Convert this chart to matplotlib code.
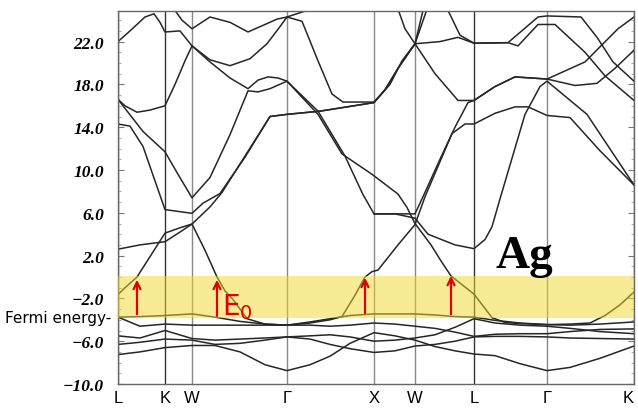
"""Estrutura de bandas da prata (Ag) ao longo de L-K-W-Γ-X-W-L-Γ-K."""

import matplotlib
matplotlib.use('Agg')
import matplotlib.pyplot as plt
from matplotlib.ticker import MultipleLocator

# Pontos de alta simetria (distância ao longo do caminho)
kpts = [0.0, 0.47, 0.74, 1.69, 2.56, 2.97, 3.56, 4.29, 5.16]
klabels = ['L', 'K', 'W', 'Γ', 'X', 'W', 'L', 'Γ', 'K']
kcolors = ['#555555', '#333333', '#888888', '#888888', '#888888',
           '#888888', '#333333', '#888888', '#555555']

# Eixo de energia (eV)
yticks = [-10, -6, -2, 2, 6, 10, 14, 18, 22]
ylabels = ['\u221210.0', '\u22126.0', '\u22122.0', '2.0', '6.0',
           '10.0', '14.0', '18.0', '22.0']

# Bandas altas: listas (k, E)
band_u0 = [(0.0, 22.0), (0.12, 23.0), (0.27, 24.3), (0.36, 24.6), (0.42, 23.8),
           (0.47, 22.9), (0.62, 23.0), (0.74, 21.6), (0.92, 20.3), (1.12, 19.75),
           (1.32, 20.4), (1.49, 21.8), (1.62, 23.4), (1.69, 24.3), (1.82, 24.7),
           (2.02, 25.3)]
band_u1 = [(0.54, 25.3), (0.64, 24.0), (0.74, 23.2), (0.92, 24.3), (1.12, 23.8),
           (1.30, 22.9), (1.47, 23.6), (1.59, 24.1), (1.69, 24.3), (1.84, 23.9),
           (2.00, 20.2), (2.14, 17.1), (2.25, 16.35), (2.56, 16.35), (2.67, 17.5),
           (2.80, 19.5), (2.97, 21.8), (3.17, 19.0), (3.40, 16.5), (3.56, 16.5),
           (3.77, 17.8), (3.97, 18.7), (4.29, 18.5), (4.67, 20.1), (5.00, 23.2),
           (5.16, 24.3)]
band_v = [(0.0, 16.6), (0.07, 16.0), (0.19, 15.4), (0.32, 15.6), (0.47, 16.0),
          (0.57, 18.0), (0.67, 20.2), (0.74, 21.6), (0.92, 20.1), (1.12, 18.6),
          (1.30, 17.6), (1.40, 18.4), (1.50, 18.7), (1.60, 18.6), (1.69, 18.3),
          (2.00, 15.5), (2.27, 11.3), (2.45, 7.7), (2.56, 5.9), (2.77, 5.9),
          (2.97, 5.9), (3.04, 7.3), (3.22, 11.0), (3.37, 14.0), (3.50, 16.3),
          (3.56, 16.5), (3.77, 17.8), (3.97, 18.7), (4.29, 18.5), (4.57, 17.9),
          (4.79, 18.1), (4.97, 19.5), (5.16, 21.2)]
band_b7 = [(0.0, 16.6), (0.25, 13.6), (0.47, 11.7), (0.60, 9.6), (0.74, 7.4),
           (0.92, 9.3), (1.12, 13.3), (1.30, 17.4), (1.40, 17.3), (1.52, 17.6),
           (1.69, 18.3), (2.00, 15.2), (2.24, 11.5), (2.54, 9.6), (2.80, 7.75),
           (2.89, 6.5), (2.97, 5.0), (3.13, 3.0), (3.23, 1.5), (3.33, 0.1),
           (3.56, -1.6), (3.74, -3.8), (3.87, -4.25), (4.02, -4.35), (4.29, -4.45),
           (4.52, -4.4), (4.72, -4.3), (4.87, -3.6), (5.02, -2.6), (5.16, -1.4)]
band_l14 = [(0.0, 14.3), (0.12, 14.1), (0.25, 12.2), (0.47, 6.3), (0.74, 5.95),
            (0.85, 6.9), (1.02, 7.8), (1.27, 11.2), (1.52, 15.0), (1.69, 15.2),
            (2.02, 15.5), (2.56, 16.3), (2.67, 17.5), (2.80, 19.5), (2.97, 21.8),
            (3.06, 25.3)]
band_sp2 = [(0.0, 2.6), (0.22, 3.0), (0.47, 3.3), (0.62, 4.2), (0.74, 4.95),
            (0.92, 6.55), (1.04, 7.9), (1.29, 11.6), (1.52, 15.0), (1.69, 15.2),
            (2.02, 15.5), (2.56, 16.3), (2.72, 18.0), (2.84, 20.2), (2.97, 21.8),
            (3.10, 25.3)]
band_sp1 = [(0.0, -1.65), (0.07, -1.0), (0.19, 0.0), (0.32, 1.9), (0.47, 4.1),
            (0.62, 4.6), (0.74, 4.95), (0.87, 2.5), (0.99, 0.0), (1.07, -1.3),
            (1.15, -2.1), (1.29, -3.9), (1.47, -4.4), (1.69, -4.5), (1.92, -4.3),
            (2.12, -4.0), (2.24, -3.7), (2.37, -1.7), (2.47, 0.0), (2.54, 0.5),
            (2.60, 0.65), (2.80, 3.0), (2.97, 4.9), (3.07, 7.5), (3.34, 13.4),
            (3.47, 14.3), (3.56, 14.3), (3.77, 15.3), (3.97, 15.9), (4.10, 15.9),
            (4.29, 15.1), (4.52, 14.9), (4.82, 11.8), (5.16, 8.6)]
band_t = [(2.56, 5.9), (2.77, 5.9), (2.97, 5.5), (3.10, 4.0), (3.37, 3.0),
          (3.56, 2.65), (3.67, 3.5), (3.74, 4.7), (3.82, 7.3), (4.07, 15.2),
          (4.22, 17.8), (4.29, 18.3), (4.69, 15.2), (5.16, 8.6)]
band_u5 = [(2.79, 25.3), (2.87, 23.2), (2.97, 21.8), (3.22, 22.0), (3.40, 22.4),
           (3.56, 21.85), (3.90, 21.9), (4.00, 21.6), (4.20, 23.6), (4.37, 23.6),
           (4.67, 21.0), (4.87, 18.8), (5.16, 16.5)]
band_u6 = [(3.28, 25.3), (3.42, 22.6), (3.56, 21.85), (3.90, 21.9), (4.20, 24.3),
           (4.29, 24.4), (4.63, 24.3), (4.79, 22.4), (4.95, 20.1), (5.16, 18.3)]

# Bandas d e fundo da banda s, numa grade comum de k
k_grid = [0.0, 0.22, 0.47, 0.74, 0.97, 1.22, 1.47, 1.69, 1.92, 2.12, 2.32, 2.56,
          2.77, 2.97, 3.17, 3.37, 3.56, 3.77, 4.02, 4.29, 4.52, 4.82, 5.16]
d5 = [-3.75, -3.7, -3.6, -3.45, -3.75, -4.15, -4.4, -4.5, -4.2, -3.9, -3.6, -3.45,
      -3.45, -3.45, -3.55, -3.7, -3.75, -4.05, -4.3, -4.45, -4.5, -4.4, -4.2]
d4 = [-3.75, -4.6, -4.4, -4.5, -4.5, -4.5, -4.5, -4.5, -4.5, -4.6, -4.5, -4.3,
      -4.4, -4.6, -4.8, -5.15, -5.55, -5.35, -5.3, -5.3, -5.1, -4.9, -4.85]
d3 = [-5.5, -5.7, -5.0, -5.75, -5.9, -5.8, -5.7, -5.6, -5.5, -5.4, -5.6, -6.0,
      -5.9, -5.7, -5.4, -4.7, -3.9, -4.3, -4.5, -4.6, -4.8, -5.1, -5.3]
d2 = [-6.3, -6.1, -5.8, -5.9, -6.3, -6.2, -5.9, -5.6, -5.8, -6.3, -6.7, -7.05,
      -6.9, -6.45, -6.3, -6.0, -5.6, -5.55, -5.55, -5.6, -5.7, -5.75, -5.8]
s0 = [-7.25, -7.0, -6.6, -6.4, -6.4, -7.0, -8.2, -8.75, -8.2, -7.4, -6.2, -5.2,
      -5.5, -5.9, -6.5, -6.9, -7.2, -7.35, -8.1, -8.75, -8.45, -7.6, -6.45]

# Faixa de transições interbanda e setas (k, E_base, E_topo)
band_window = (-3.85, 0.05)
arrows = [(0.19, -3.74, 0.0), (0.99, -3.9, 0.0), (2.47, -3.64, 0.19),
          (3.33, -3.74, 0.37)]

fig = plt.figure(figsize=(6.38, 4.10), dpi=100)
ax = fig.add_axes([118 / 638, 1 - 385 / 410, 516 / 638, 373 / 410])

for k, c in zip(kpts, kcolors):
    ax.axvline(k, color=c, lw=1.0, zorder=1)

free_bands = [band_u0, band_u1, band_v, band_b7, band_l14, band_sp2,
              band_sp1, band_t, band_u5, band_u6]
for b in free_bands:
    ks = [p[0] for p in b]
    es = [p[1] for p in b]
    ax.plot(ks, es, color='#262626', lw=1.1, zorder=2)

for d in (d5, d4, d3, d2, s0):
    ax.plot(k_grid, d, color='#262626', lw=1.1, zorder=2)

ax.axhspan(band_window[0], band_window[1], color='#f0d82d', alpha=0.5,
           lw=0, zorder=3)

for k, e0, e1 in arrows:
    ax.annotate('', xy=(k, e1), xytext=(k, e0),
                arrowprops=dict(arrowstyle='->,head_length=0.5,head_width=0.25',
                                color='#e00000', lw=1.6), zorder=5)

ax.text(1.04, -3.46, 'E$_0$', color='#e00000', fontsize=20, zorder=5)
ax.text(3.78, 0.93, 'Ag', family='Liberation Serif', fontweight='bold',
        fontsize=34, va='baseline', ha='left', zorder=5)
fig.text(0.008, 1 - 318 / 410, 'Fermi energy-', fontsize=11, va='center')

ax.set_xlim(kpts[0], kpts[-1])
ax.set_ylim(-10, 24.86)
ax.set_xticks(kpts)
ax.set_xticklabels(klabels, family='Liberation Sans', fontsize=12)
ax.get_xticklabels()[-1].set_horizontalalignment('right')
ax.set_yticks(yticks)
ax.set_yticklabels(ylabels, family='Liberation Serif', fontweight='bold',
                   style='italic', fontsize=12.5)
ax.yaxis.set_minor_locator(MultipleLocator(1.0))
ax.tick_params(axis='x', length=0, pad=4)
ax.tick_params(axis='y', which='major', direction='in', length=4, pad=10,
               right=True, color='#777777')
ax.tick_params(axis='y', which='minor', direction='in', length=2,
               right=True, color='#999999')
for s in ax.spines.values():
    s.set_color('#666666')
    s.set_linewidth(1.0)

plt.savefig('out.png', dpi=100)
